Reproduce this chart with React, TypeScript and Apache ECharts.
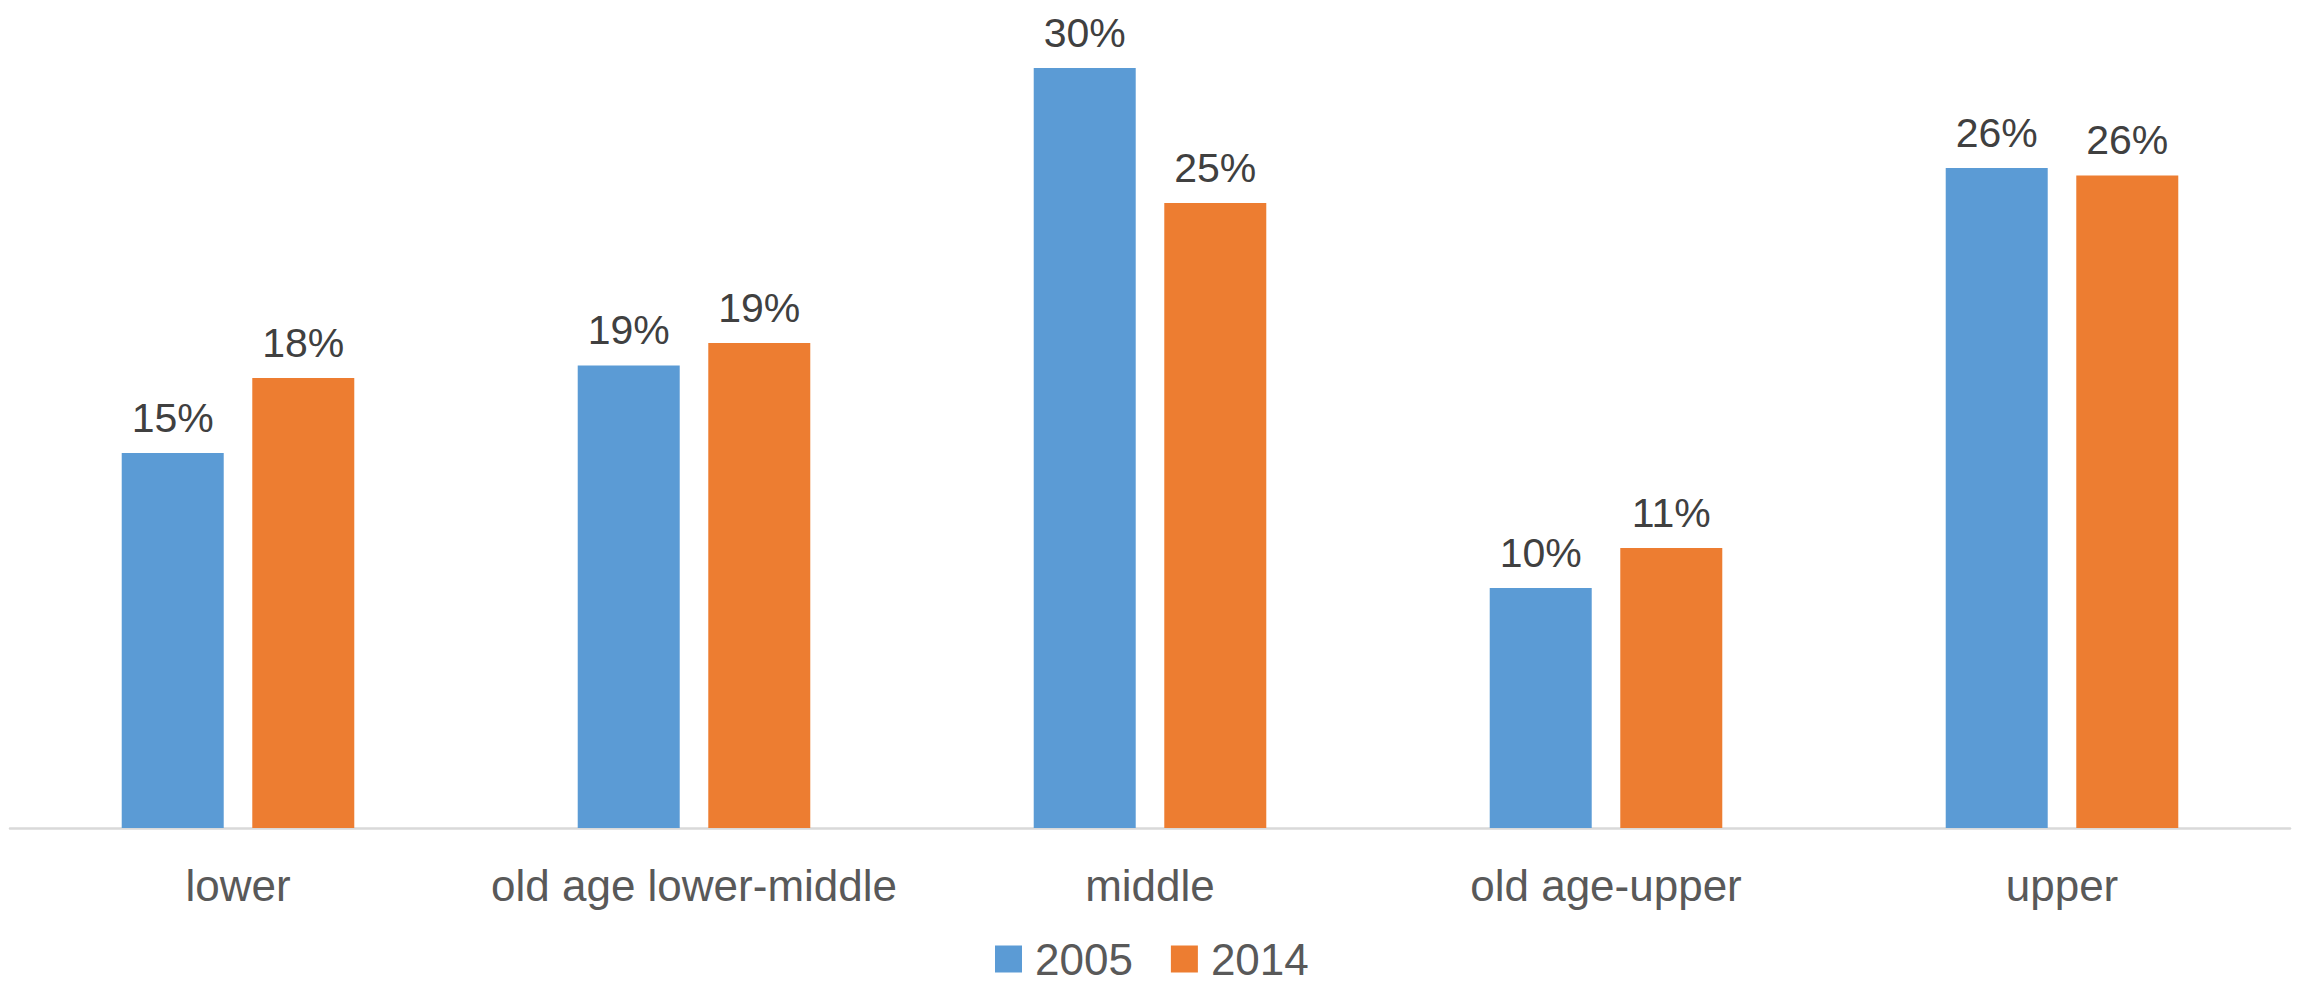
import React, { useEffect, useRef } from "react";
import * as echarts from "echarts";

const categories = ["lower", "old age lower-middle", "middle", "old age-upper", "upper"];
const seriesNames = ["2005", "2014"];
const values2005 = [15.0, 18.5, 30.4, 9.6, 26.4];
const values2014 = [18.0, 19.4, 25.0, 11.2, 26.1];
const colors = ["#5B9BD5", "#ED7D31"];

export default function App() {
  const ref = useRef<HTMLDivElement>(null);
  useEffect(() => {
    if (!ref.current) return;
    const chart = echarts.init(ref.current, null, { renderer: "svg" });
    const labelCfg = {
      show: true,
      position: "top",
      distance: 15,
      color: "#404040",
      fontSize: 41,
      fontFamily: "Liberation Sans, Arial, sans-serif",
      formatter: (p: any) => Math.round(p.value) + "%",
    };
    chart.setOption({
      animation: false,
      backgroundColor: "#ffffff",
      grid: { left: 10, right: 13, top: 3, bottom: 163, containLabel: false },
      legend: {
        data: seriesNames,
        left: 995,
        top: 936,
        padding: 0,
        icon: "rect",
        itemWidth: 27,
        itemHeight: 27,
        itemGap: 38,
        textStyle: {
          fontSize: 44,
          lineHeight: 46,
          color: "#595959",
          fontFamily: "Liberation Sans, Arial, sans-serif",
          padding: [0, 0, 0, 8],
        },
      },
      xAxis: {
        type: "category",
        data: categories,
        axisLine: { show: true, lineStyle: { color: "#d9d9d9", width: 2.5 } },
        axisTick: { show: false },
        axisLabel: {
          color: "#595959",
          fontSize: 44,
          margin: 35,
          fontFamily: "Liberation Sans, Arial, sans-serif",
          interval: 0,
        },
      },
      yAxis: {
        type: "value",
        min: 0,
        max: 33,
        show: false,
        splitLine: { show: false },
      },
      series: [
        {
          name: seriesNames[0],
          type: "bar",
          data: values2005,
          barWidth: 102,
          barGap: "28%",
          itemStyle: { color: colors[0] },
          label: labelCfg,
        },
        {
          name: seriesNames[1],
          type: "bar",
          data: values2014,
          barWidth: 102,
          barGap: "28%",
          itemStyle: { color: colors[1] },
          label: labelCfg,
        },
      ],
    });
    return () => chart.dispose();
  }, []);
  return (
    <div
      ref={ref}
      style={{ position: "absolute", left: 0, top: 0, width: 2303, height: 991, background: "#fff" }}
    />
  );
}
